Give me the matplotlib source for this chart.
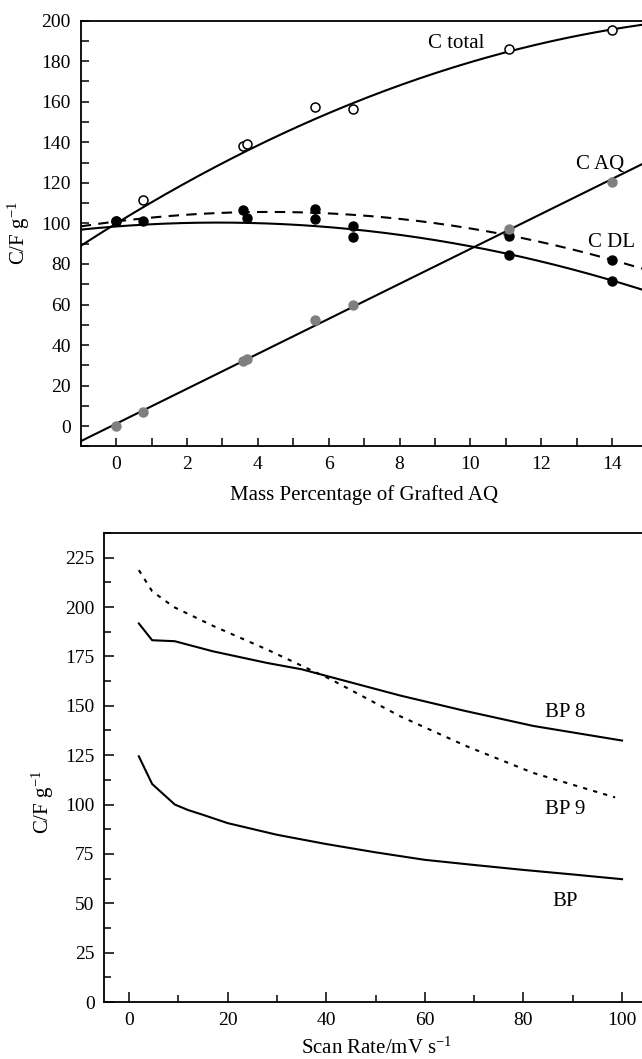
import numpy as np
import matplotlib
matplotlib.use("Agg")
import matplotlib.pyplot as plt
from matplotlib.ticker import MultipleLocator

plt.rcParams["font.family"] = ["Liberation Serif", "DejaVu Serif"]
plt.rcParams["mathtext.fontset"] = "custom"
plt.rcParams["mathtext.rm"] = "Liberation Serif"
plt.rcParams["mathtext.default"] = "regular"

# ---- Capacitance vs. grafted AQ mass percentage ----
mass_pct = [0.0, 0.75, 3.58, 3.69, 5.6, 6.69, 11.09, 14.0]
c_total = [101.0, 111.7, 138.1, 139.3, 157.3, 156.5, 186.0, 195.4]
c_aq = [0.0, 6.8, 32.0, 33.0, 52.2, 59.8, 97.2, 120.3]

dl_mass = [0.0, 0.75, 3.58, 3.69, 5.6, 5.6, 6.69, 6.69, 11.09, 11.09, 14.0, 14.0]
c_dl_points = [101.0, 101.1, 106.4, 102.6, 107.2, 102.0, 98.5, 93.1, 93.6, 84.6, 81.8, 71.4]

# smoothed trend curves (quadratic in mass percentage)
trend_mass = [-1.0, 2.35, 5.18, 9.89, 12.71, 14.84]
trend_total = [89.6, 122.5, 148.0, 180.0, 191.5, 197.5]
trend_dl_upper = [98.8, 104.0, 105.8, 98.2, 87.5, 77.8]
trend_dl_lower = [97.3, 99.6, 99.4, 89.2, 78.5, 67.0]

# ---- Capacitance vs. scan rate ----
scan_bp8 = [2, 4.7, 9.3, 17, 28, 35, 41, 55, 68, 82, 100]
cap_bp8 = [191.7, 183.2, 182.7, 177.6, 171.7, 168.5, 164.5, 155.2, 147.5, 139.8, 132.4]
scan_bp9 = [2, 4.7, 9.1, 17.2, 28, 41, 55, 68.5, 82, 98.6]
cap_bp9 = [218.7, 208.0, 200.0, 190.3, 178.5, 163.3, 144.7, 129.5, 116.0, 103.6]
scan_bp = [2, 4.7, 9.3, 12, 15, 20, 30, 40, 50, 60, 70, 80, 90, 100]
cap_bp = [124.4, 110.4, 100.0, 97.2, 94.8, 90.6, 84.7, 80.0, 75.8, 72.0, 69.4, 66.9, 64.6, 62.2]

fig = plt.figure(figsize=(6.42, 10.59), dpi=100)

tick_fs = 14
label_fs = 15

def style_axes(ax):
    for side in ("top", "left", "bottom"):
        ax.spines[side].set_linewidth(1.3)
    ax.spines["right"].set_visible(False)
    ax.tick_params(which="both", direction="in", width=1.1, labelsize=tick_fs,
                   top=False, right=False)
    ax.tick_params(axis="y", which="major", pad=7)
    ax.tick_params(axis="x", which="major", pad=7)

# Top panel
ax1 = fig.add_axes([0.1257, 0.5784, 0.8743, 0.4021])
xlo, xhi = -1.0, 14.84
xs = np.linspace(xlo, xhi, 300)

for trend, ls in ((trend_total, "-"), (trend_dl_upper, (0, (5, 3.5))),
                  (trend_dl_lower, "-")):
    coef = np.polyfit(trend_mass, trend, 2)
    ax1.plot(xs, np.polyval(coef, xs), color="black", lw=1.5, ls=ls, zorder=2)

# AQ contribution is linear in grafted mass
aq_coef = np.polyfit(mass_pct, c_aq, 1)
ax1.plot(xs, np.polyval(aq_coef, xs), color="black", lw=1.5, zorder=2)

ax1.plot(mass_pct, c_total, "o", ms=6.5, mfc="white", mec="black", mew=1.1, zorder=3)
ax1.plot(dl_mass, c_dl_points, "o", ms=6.5, mfc="black", mec="black", zorder=4)
ax1.plot(mass_pct, c_aq, "o", ms=6.5, mfc="#7f7f7f", mec="#7f7f7f", zorder=4)

ax1.set_xlim(xlo, xhi)
ax1.set_ylim(-10, 200)
ax1.xaxis.set_major_locator(MultipleLocator(2))
ax1.xaxis.set_minor_locator(MultipleLocator(1))
ax1.yaxis.set_major_locator(MultipleLocator(20))
ax1.yaxis.set_minor_locator(MultipleLocator(10))
style_axes(ax1)
ax1.tick_params(which="major", length=6)
ax1.tick_params(which="minor", length=5.5)
ax1.set_xlabel("Mass Percentage of Grafted AQ", fontsize=label_fs)
ax1.set_ylabel("C/F g$^{-1}$", fontsize=label_fs, va="center")
ax1.xaxis.set_label_coords(0.5046, -0.09)
ax1.yaxis.set_label_coords(-0.11, 0.501)

ax1.text(9.6, 188.7, "C total", fontsize=label_fs, ha="center", va="center")
ax1.text(13.65, 129, "C AQ", fontsize=label_fs, ha="center", va="center")
ax1.text(13.98, 90.8, "C DL", fontsize=label_fs, ha="center", va="center")

# Bottom panel
ax2 = fig.add_axes([0.1625, 0.0538, 0.8375, 0.4429])
ax2.plot(scan_bp8, cap_bp8, color="black", lw=1.5)
ax2.plot(scan_bp9, cap_bp9, color="black", lw=1.5, ls=(0, (2, 3)))
ax2.plot(scan_bp, cap_bp, color="black", lw=1.5)

ax2.set_xlim(-5, 104.05)
ax2.set_ylim(0, 237.5)
ax2.xaxis.set_major_locator(MultipleLocator(20))
ax2.xaxis.set_minor_locator(MultipleLocator(10))
ax2.yaxis.set_major_locator(MultipleLocator(25))
ax2.yaxis.set_minor_locator(MultipleLocator(12.5))
style_axes(ax2)
ax2.tick_params(which="major", length=7.5)
ax2.tick_params(which="minor", length=5)
ax2.set_xlabel("Scan Rate/mV s$^{-1}$", fontsize=label_fs)
ax2.set_ylabel("C/F g$^{-1}$", fontsize=label_fs, va="center")
ax2.xaxis.set_label_coords(0.506, -0.075)
ax2.yaxis.set_label_coords(-0.114, 0.426)

ax2.text(88.5, 146.4, "BP 8", fontsize=label_fs, ha="center", va="center")
ax2.text(88.5, 97.4, "BP 9", fontsize=label_fs, ha="center", va="center")
ax2.text(88.5, 50.9, "BP", fontsize=label_fs, ha="center", va="center")

fig.savefig("out.png", dpi=100)
